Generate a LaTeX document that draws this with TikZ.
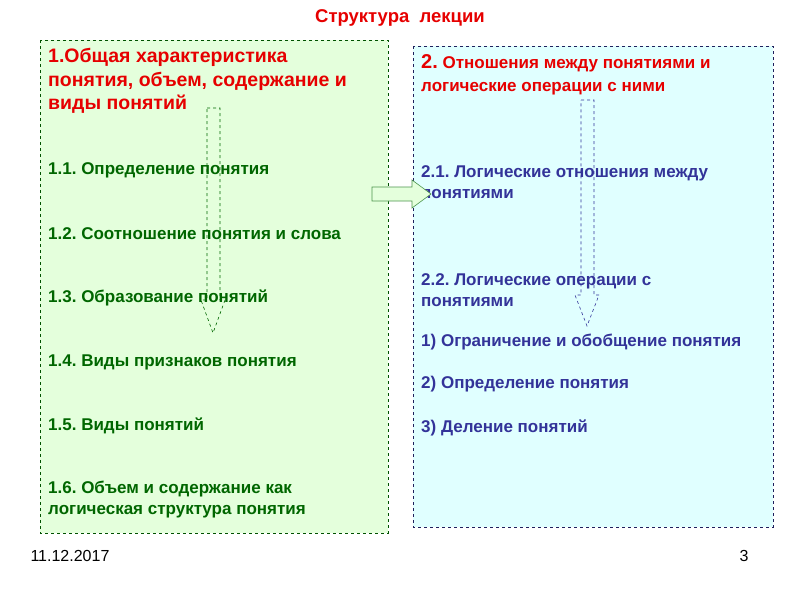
\documentclass[tikz,border=0pt]{standalone}
\usepackage{fontspec}
\setmainfont{Liberation Sans}
\frenchspacing
\definecolor{dg}{RGB}{0,102,0}
\definecolor{db}{RGB}{51,51,153}
\definecolor{rd}{RGB}{230,0,0}
\definecolor{lc}{RGB}{224,255,255}
\definecolor{lgr}{RGB}{228,255,220}
\begin{document}
\begin{tikzpicture}[x=1pt,y=-1pt,
  lt/.style={anchor=west,align=left,inner sep=0pt,font=\bfseries\fontsize{17}{21}\selectfont},
  arr/.style={dashed,line width=0.6pt}]
\useasboundingbox (0,0) rectangle (800,600);
\draw[dashed,draw=dg!80!black,fill=lgr] (40,40) rectangle (388,533);
\draw[dashed,draw=db!60!black,fill=lc] (413,46) rectangle (773,527);
\node[font=\bfseries\fontsize{18.5}{22}\selectfont,text=rd] (t) at (400,18) {Структура\ \ лекции};
\node[lt,text=rd,font=\bfseries\fontsize{19.5}{23.5}\selectfont] (h1) at (48,81) {1.Общая характеристика\\понятия, объем, содержание и\\виды понятий};
\begin{scope}[every node/.style={lt,text=dg}]
\node (a1) at (48,170) {1.1. Определение понятия};
\node (a2) at (48,234) {1.2. Соотношение понятия и слова};
\node (a3) at (48,298) {1.3. Образование понятий};
\node (a4) at (48,362) {1.4. Виды признаков понятия};
\node (a5) at (48,426) {1.5. Виды понятий};
\node (a6) at (48,500) {1.6. Объем и содержание как\\логическая структура понятия};
\end{scope}
\node[lt,text=rd,font=\bfseries\fontsize{17}{23}\selectfont] (h2) at (421,75) {{\fontsize{20}{20}\selectfont 2.} Отношения между понятиями и\\логические операции с ними};
\begin{scope}[every node/.style={lt,text=db}]
\node (b1) at (421,182) {2.1. Логические отношения между\\понятиями};
\node (b2) at (421,290) {2.2. Логические операции с\\понятиями};
\node (b3) at (421,342) {1) Ограничение и обобщение понятия};
\node (b4) at (421,384) {2) Определение понятия};
\node (b5) at (421,428) {3) Деление понятий};
\end{scope}
% left arrow
\draw[arr,draw=dg] (207,108)--(220,108)--(220,300)--(225,300)--(213,333)--(201,300)--(207,300)--cycle;
% right arrow
\draw[arr,draw=db] (581,100)--(594,100)--(594,295)--(599,295)--(587,326)--(575,295)--(581,295)--cycle;
% horizontal arrow
\draw[line width=0.6pt,draw=dg!70,fill=lgr] (372,187)--(412,187)--(412,180)--(431,194)--(412,208)--(412,201)--(372,201)--cycle;
\node[anchor=west,font=\fontsize{16}{18}\selectfont] (d) at (27,556) {11.12.2017};
\node[anchor=east,font=\fontsize{16}{18}\selectfont] (p) at (752,556) {3};
\end{tikzpicture}
\end{document}
